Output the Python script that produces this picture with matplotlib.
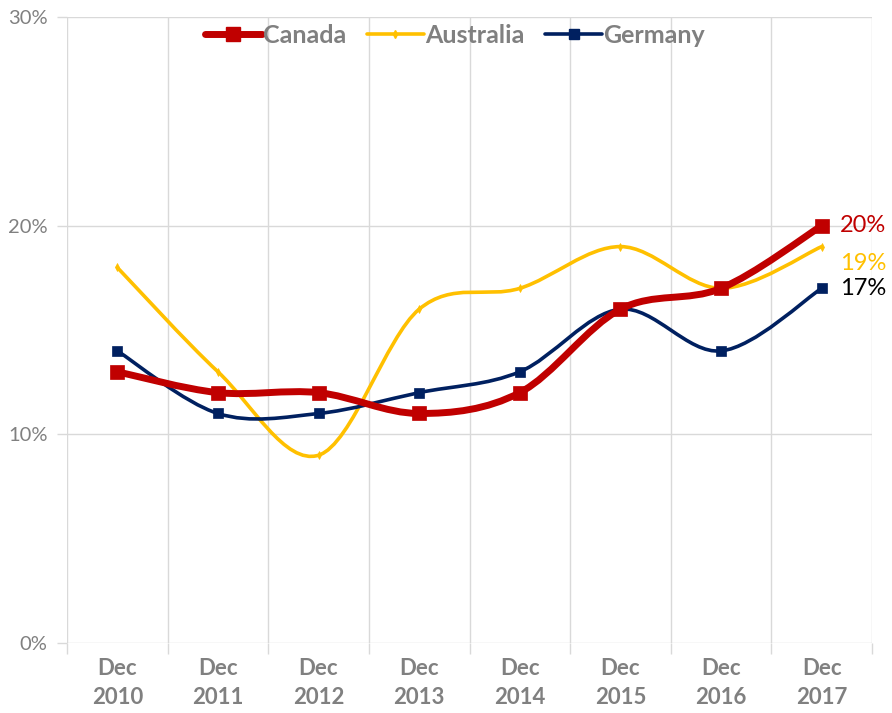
import matplotlib.pyplot as plt
from matplotlib.path import Path
from matplotlib.patches import PathPatch
from matplotlib.lines import Line2D
import numpy as np

# --- Data ---
years = ['Dec\n2010', 'Dec\n2011', 'Dec\n2012', 'Dec\n2013',
         'Dec\n2014', 'Dec\n2015', 'Dec\n2016', 'Dec\n2017']
canada = [13, 12, 12, 11, 12, 16, 17, 20]
australia = [18, 13, 9, 16, 17, 19, 17, 19]
germany = [14, 11, 11, 12, 13, 16, 14, 17]

GRID = '#D9D9D9'
GRAY = '#808080'
plt.rcParams['font.family'] = ['Lato', 'DejaVu Sans']


def smooth_path(xs, ys):
    # Excel-like smoothed line: cubic Bezier through each point
    n = len(xs)
    verts = [(xs[0], ys[0])]
    codes = [Path.MOVETO]
    for i in range(n - 1):
        x0, y0 = xs[max(i - 1, 0)], ys[max(i - 1, 0)]
        x1, y1 = xs[i], ys[i]
        x2, y2 = xs[i + 1], ys[i + 1]
        x3, y3 = xs[min(i + 2, n - 1)], ys[min(i + 2, n - 1)]
        c1 = (x1 + (x2 - x0) / 6, y1 + (y2 - y0) / 6)
        c2 = (x2 - (x3 - x1) / 6, y2 - (y3 - y1) / 6)
        verts += [c1, c2, (x2, y2)]
        codes += [Path.CURVE4] * 3
    return Path(verts, codes)


fig = plt.figure(figsize=(8.92, 7.13), dpi=100)
ax = fig.add_axes([0.0751, 0.0982, 0.9025, 0.8778])

x = np.arange(len(years))
series = [
    ('Canada', canada, '#C00000', 5.0, 's', 10, 99),
    ('Australia', australia, '#FFC000', 2.6, 'd', 4, 97),
    ('Germany', germany, '#002060', 2.6, 's', 7, 98),
]
handles = []
for name, vals, color, lw, mk, ms, z in series:
    p = PathPatch(smooth_path(x, vals), facecolor='none', edgecolor=color,
                  lw=lw, capstyle='round', joinstyle='round', zorder=z)
    ax.add_patch(p)
    ax.plot(x, vals, linestyle='none', marker=mk, ms=ms, color=color,
            markeredgewidth=0.5, zorder=z)
    handles.append(Line2D([], [], color=color, lw=lw, marker=mk, ms=ms,
                          solid_capstyle='round'))

# End labels
ax.text(7.18, 20, '20%', color='#C00000', fontsize=17, va='center', ha='left')
ax.text(7.18, 18.2, '19%', color='#FFC000', fontsize=17, va='center', ha='left')
ax.text(7.18, 17, '17%', color='#000000', fontsize=17, va='center', ha='left')

ax.set_xlim(-0.5, 7.5)
ax.set_ylim(0, 30)
ax.set_yticks([0, 10, 20, 30])
ax.set_yticklabels(['0%', '10%', '20%', '30%'])
ax.set_xticks(x)
ax.set_xticklabels(years, fontweight='bold', fontsize=16, color=GRAY,
                   linespacing=1.45)
ax.set_xticks(np.arange(-0.5, 8, 1), minor=True)

ax.tick_params(axis='x', which='major', length=0, pad=11)
ax.tick_params(axis='x', which='minor', length=8, color=GRID, width=1)
ax.tick_params(axis='y', length=7, color=GRID, width=1, labelsize=14.5,
               labelcolor=GRAY, pad=7)
ax.grid(axis='y', color=GRID, lw=1)
ax.grid(axis='x', which='minor', color=GRID, lw=1)
ax.set_axisbelow(True)
for s in ax.spines.values():
    s.set_visible(False)

leg = ax.legend(handles, ['Canada', 'Australia', 'Germany'], loc='upper center',
                bbox_to_anchor=(0.482, 1.025), ncol=3, frameon=False,
                handlelength=2.3, handletextpad=0.05, columnspacing=0.8,
                prop={'weight': 'bold', 'size': 18})
for t in leg.get_texts():
    t.set_color(GRAY)

fig.savefig('out.png', dpi=100)
